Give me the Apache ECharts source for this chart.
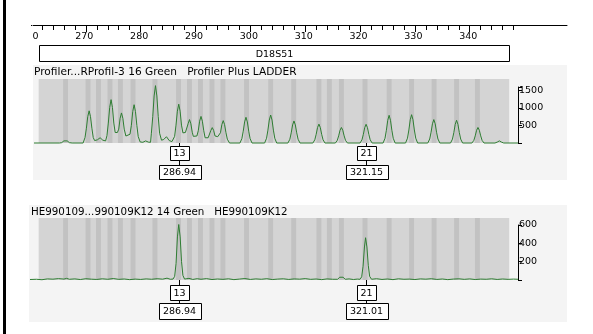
<!DOCTYPE html>
<html><head><meta charset="utf-8">
<script src="https://cdn.jsdelivr.net/npm/echarts@6/dist/echarts.min.js"></script>
<style>html,body{margin:0;padding:0;background:#fff}#c{width:593px;height:334px}</style>
</head><body><div id="c"></div><script>
// ---------- data ----------
const xMin = 260, xMax = 348.8;
const minorTickMax = 348, majorTickMax = 340;
const minorStep = 2, majorStep = 10;
const locusName = 'D18S51';
const locusRange = [261.4, 347.2];
const bins = [266.3, 270.4, 272.3, 274.4, 276.3, 278.6, 282.6, 286.9, 288.9, 290.9, 293.0, 295.0, 299.3, 303.7, 307.9, 312.5, 314.4, 316.6, 320.9, 325.3, 329.4, 333.5, 337.6, 341.4];
const ladderTitle = 'Profiler...RProfil-3 16 Green   Profiler Plus LADDER';
const sampleTitle = 'HE990109...990109K12 14 Green   HE990109K12';
const ladderYMax = 1600, ladderYStep = 500;
const sampleYMax = 600, sampleYStep = 200;
const ladderCalls = [['13', 286.94], ['21', 321.15]];
const sampleCalls = [['13', 286.94], ['21', 321.01]];
const ladderTrace = [
 [260.55,0],[265.2,0],[265.6,10],[266.0,60],[266.3,110],[266.6,60],[267.0,10],[267.5,0],[269.5,0],
 [269.85,156],[270.1,423],[270.35,754],[270.6,920],[270.85,754],[271.1,423],[271.35,156],[271.6,70],
 [272.1,90],[272.6,150],[273.1,80],[273.6,60],
 [273.85,211],[274.1,570],[274.35,1017],[274.6,1240],[274.85,1017],[275.1,570],[275.35,300],[275.55,270],
 [275.75,300],[276.0,396],[276.25,705],[276.5,860],[276.75,705],[277.0,396],[277.3,200],[277.6,180],
 [278.05,250],[278.3,504],[278.55,898],[278.8,1095],[279.05,898],[279.3,504],[279.55,186],[279.9,30],[280.4,20],
 [280.9,60],[281.4,25],[281.8,20],
 [281.95,279],[282.2,754],[282.45,1345],[282.7,1640],[282.95,1345],[283.2,754],[283.45,279],[283.8,80],[284.2,100],
 [284.7,180],[285.2,70],[285.7,40],
 [286.19,189],[286.44,511],[286.69,910],[286.94,1110],[287.19,910],[287.44,511],[287.7,290],[287.9,270],
 [288.15,300],[288.4,330],[288.65,550],[288.9,670],[289.15,550],[289.4,308],[289.6,190],[289.95,180],
 [290.25,200],[290.5,350],[290.75,623],[291.0,760],[291.25,623],[291.5,350],[291.75,150],[292.0,130],
 [292.3,150],[292.55,202],[292.8,361],[293.05,440],[293.3,361],[293.55,202],[293.8,170],[294.05,180],
 [294.3,200],[294.55,294],[294.8,525],[295.05,640],[295.3,525],[295.55,294],[295.8,109],[296.2,0],
 [298.1,0],[298.45,125],[298.7,338],[298.95,603],[299.2,735],[299.45,603],[299.7,338],[299.95,125],[300.3,0],
 [302.6,0],[302.95,136],[303.2,368],[303.45,656],[303.7,800],[303.95,656],[304.2,368],[304.45,136],[304.8,0],
 [306.85,0],[307.2,107],[307.45,290],[307.7,517],[307.95,630],[308.2,517],[308.45,290],[308.7,107],[309.05,0],
 [311.4,0],[311.75,92],[312.0,248],[312.25,443],[312.5,540],[312.75,443],[313.0,248],[313.25,92],[313.6,0],
 [315.5,0],[315.85,75],[316.1,204],[316.35,364],[316.6,444],[316.85,364],[317.1,204],[317.35,75],[317.7,0],
 [320.0,0],[320.35,91],[320.6,246],[320.85,439],[321.1,535],[321.35,439],[321.6,246],[321.85,91],[322.2,0],
 [324.2,0],[324.55,135],[324.8,364],[325.05,649],[325.3,792],[325.55,649],[325.8,364],[326.05,135],[326.4,0],
 [328.3,0],[328.65,138],[328.9,373],[329.15,664],[329.4,810],[329.65,664],[329.9,373],[330.15,138],[330.5,0],
 [332.35,0],[332.7,114],[332.95,308],[333.2,549],[333.45,670],[333.7,549],[333.95,308],[334.2,114],[334.55,0],
 [336.5,0],[336.85,111],[337.1,299],[337.35,533],[337.6,650],[337.85,533],[338.1,299],[338.35,111],[338.7,0],
 [340.4,0],[340.75,75],[341.0,204],[341.25,364],[341.5,444],[341.75,364],[342.0,204],[342.25,75],[342.6,0],
 [344.6,0],[345.0,25],[345.4,60],[345.8,25],[346.2,0],[348.8,0]
];
const sampleTrace = [
 [259.6,5],[261,8],[262,3],[263,12],[264,9],[265,15],[266,10],[266.5,18],[267,8],[268,12],[269,5],[270,14],[271,9],[272,6],[273,13],[274,8],[275,16],[276,7],[277,11],[278,4],[279,10],[280,6],[281,12],[282,8],[283,14],[284,9],[284.8,20],[285.4,8],
 [285.9,10],[286.2,40],[286.45,180],[286.7,470],[286.94,605],[287.2,470],[287.45,200],[287.7,50],[288.0,10],
 [288.8,18],[289.5,6],[290.3,14],[291,8],[292,15],[293,5],[294,11],[295,7],[296,13],[297,4],[298,10],[299,16],[300,6],[301,12],[302,8],[303,14],[304,5],[305,10],[306,13],[307,6],[308,12],[309,9],[310,15],[311,7],[312,11],[313,4],[314,12],[315,8],
 [315.9,8],[316.3,30],[316.6,45],[316.9,30],[317.3,8],
 [318,12],[318.8,5],[319.5,10],
 [320.0,8],[320.3,35],[320.55,150],[320.8,360],[321.01,461],[321.25,360],[321.5,160],[321.75,40],[322.1,8],
 [323,14],[324,6],[325,11],[326,4],[327,13],[328,8],[329,10],[330,5],[331,12],[332,9],[333,14],[334,6],[335,11],[336,4],[337,10],[338,13],[339,7],[340,12],[341,5],[342,10],[343,8],[344,13],[345,6],[346,11],[347,7],[348,10],[348.8,8]
];

// ---------- style / layout ----------
const FONT = 'DejaVu Sans';
const GREEN = '#2e7d32';
const PANEL = '#d4d4d4';
const BIN = '#c2c2c2';
const OUTER = '#f4f4f4';
const L = 31, PW = 487;                  // plot left and width for xMin..xMax
const S = PW / (xMax - xMin);            // px per bp (layout only)

const chart = echarts.init(document.getElementById('c'), null, {renderer: 'canvas'});

function hiddenX(gi) {
  return {gridIndex: gi, type: 'value', min: xMin, max: xMax, show: false, axisLine: {onZero: false}};
}
function hiddenY(gi, max) {
  return {gridIndex: gi, type: 'value', min: 0, max: max, show: false};
}
function dispY(gi, max, step) {
  return {
    gridIndex: gi, type: 'value', position: 'right', min: 0, max: max, interval: step,
    splitLine: {show: false},
    axisLine: {show: true, onZero: false, lineStyle: {color: '#000', width: 1}},
    axisTick: {show: true, length: 4, lineStyle: {color: '#000'}},
    axisLabel: {show: true, margin: 1, color: '#000', fontSize: 9.5, fontFamily: FONT,
      formatter: v => (v > 0 && v % step === 0) ? String(v) : ''}
  };
}
function panelSeries(xi, yi, yMax) {
  return {
    type: 'custom', xAxisIndex: xi, yAxisIndex: yi, z: 1, silent: true, clip: false,
    data: [[locusRange[0], locusRange[1]]],
    renderItem(params, api) {
      const a = api.coord([api.value(0), yMax]);
      const b = api.coord([api.value(1), 0]);
      return {type: 'rect', shape: {x: a[0], y: a[1], width: b[0] - a[0], height: b[1] - a[1]}, style: {fill: PANEL}};
    }
  };
}
function binSeries(xi, yi, yMax) {
  return {
    type: 'custom', xAxisIndex: xi, yAxisIndex: yi, z: 2, silent: true, clip: false,
    data: bins.map(b => [b]),
    renderItem(params, api) {
      const c = api.value(0);
      const a = api.coord([c - 0.45, yMax]);
      const b = api.coord([c + 0.45, 0]);
      return {type: 'rect', shape: {x: a[0], y: a[1], width: b[0] - a[0], height: b[1] - a[1]}, style: {fill: BIN}};
    }
  };
}
function traceSeries(xi, yi, data) {
  return {
    type: 'line', xAxisIndex: xi, yAxisIndex: yi, data: data, z: 5, clip: false,
    showSymbol: false, symbol: 'none', silent: true, animation: false,
    lineStyle: {color: GREEN, width: 1}
  };
}
function callSeries(xi, yi, calls, g1, h1, g2, h2) {
  return {
    type: 'custom', xAxisIndex: xi, yAxisIndex: yi, z: 6, clip: false, silent: true,
    data: calls.map(c => [c[1], 0]),
    renderItem(params, api) {
      const p = api.coord([api.value(0), 0]);
      const x = Math.round(p[0]) + 0.5, y = Math.round(p[1]);
      const allele = calls[params.dataIndex][0];
      const size = calls[params.dataIndex][1].toFixed(2);
      const aw = 19, sw = 42;
      const font = '9.5px "' + FONT + '"';
      const y1 = y + g1, y2 = y1 + h1, y3 = y2 + g2;
      return {type: 'group', children: [
        {type: 'line', shape: {x1: x, y1: y, x2: x, y2: y1}, style: {stroke: '#000', lineWidth: 1}},
        {type: 'rect', shape: {x: Math.round(x - aw / 2) + 0.5, y: y1 + 0.5, width: aw, height: h1}, style: {fill: '#fff', stroke: '#000', lineWidth: 1}},
        {type: 'text', style: {text: allele, x: x, y: y1 + h1 / 2 + 1, align: 'center', verticalAlign: 'middle', font: font, fill: '#000'}},
        {type: 'line', shape: {x1: x, y1: y2, x2: x, y2: y3}, style: {stroke: '#000', lineWidth: 1}},
        {type: 'rect', shape: {x: Math.round(x - sw / 2) + 0.5, y: y3 + 0.5, width: sw, height: h2}, style: {fill: '#fff', stroke: '#000', lineWidth: 1}},
        {type: 'text', style: {text: size, x: x, y: y3 + h2 / 2 + 1, align: 'center', verticalAlign: 'middle', font: font, fill: '#000'}}
      ]};
    }
  };
}

const option = {
  animation: false,
  backgroundColor: '#fff',
  grid: [
    {left: L, width: (minorTickMax - xMin) * S, top: 25, height: 20},   // 0 minor ruler ticks
    {left: L, width: (majorTickMax - xMin) * S, top: 25, height: 20},   // 1 major ruler ticks + labels
    {left: 33, right: 26, top: 25, height: 20},                         // 2 ruler line
    {left: L, width: PW, top: 45, height: 17},                          // 3 locus box
    {left: L, width: PW, top: 79, height: 64},                          // 4 ladder data
    {left: L, width: PW, top: 87, height: 56},                          // 5 ladder y axis
    {left: L, width: PW, top: 218, height: 62},                         // 6 sample data
    {left: L, width: PW, top: 225, height: 55}                          // 7 sample y axis
  ],
  xAxis: [
    {gridIndex: 0, type: 'value', position: 'top', min: xMin, max: minorTickMax, interval: minorStep,
     splitLine: {show: false}, axisLine: {show: false, onZero: false},
     axisTick: {show: true, inside: true, length: 5, lineStyle: {color: '#000'}},
     axisLabel: {show: false}},
    {gridIndex: 1, type: 'value', position: 'top', min: xMin, max: majorTickMax, interval: majorStep,
     splitLine: {show: false}, axisLine: {show: false, onZero: false},
     axisTick: {show: true, inside: true, length: 7, lineStyle: {color: '#000'}},
     axisLabel: {show: true, inside: true, margin: 7, color: '#000', fontSize: 9.5, fontFamily: FONT, padding: [0, 3, 0, 0]}},
    {gridIndex: 2, type: 'value', position: 'top', min: 0, max: 1,
     splitLine: {show: false}, axisTick: {show: false}, axisLabel: {show: false},
     axisLine: {show: true, onZero: false, lineStyle: {color: '#000', width: 1}}},
    hiddenX(3), hiddenX(4), hiddenX(5), hiddenX(6), hiddenX(7)
  ],
  yAxis: [
    hiddenY(0, 1), hiddenY(1, 1), hiddenY(2, 1), hiddenY(3, 1),
    hiddenY(4, 1830),
    dispY(5, ladderYMax, ladderYStep),
    hiddenY(6, 676),
    dispY(7, sampleYMax, sampleYStep)
  ],
  graphic: [
    {type: 'rect', z: -10, shape: {x: 33, y: 65, width: 534, height: 115}, style: {fill: OUTER}},
    {type: 'rect', z: -10, shape: {x: 29, y: 205, width: 538, height: 117}, style: {fill: OUTER}},
    {type: 'rect', z: 100, shape: {x: 7, y: 26, width: 26, height: 18}, style: {fill: '#fff'}},
    {type: 'rect', z: 101, shape: {x: 3, y: 0, width: 3, height: 334}, style: {fill: '#000'}},
    {type: 'text', z: 10, style: {text: ladderTitle, x: 34, y: 72, verticalAlign: 'middle', font: '10.6px "' + FONT + '"', fill: '#000'}},
    {type: 'text', z: 10, style: {text: sampleTitle, x: 31, y: 212, verticalAlign: 'middle', font: '10.3px "' + FONT + '"', fill: '#000'}}
  ],
  series: [
    {type: 'custom', xAxisIndex: 3, yAxisIndex: 3, z: 3, silent: true, clip: false,
     data: [[locusRange[0], locusRange[1]]],
     renderItem(params, api) {
       const a = api.coord([api.value(0), 1]);
       const b = api.coord([api.value(1), 0]);
       const x0 = Math.round(a[0]) + 0.5, x1 = Math.round(b[0]) + 0.5;
       const y0 = Math.round(a[1]) + 0.5, y1 = Math.round(b[1]) - 0.5;
       return {type: 'group', children: [
         {type: 'rect', shape: {x: x0, y: y0, width: x1 - x0, height: y1 - y0}, style: {fill: '#fff', stroke: '#000', lineWidth: 1}},
         {type: 'text', style: {text: locusName, x: (x0 + x1) / 2, y: (y0 + y1) / 2 + 1, align: 'center', verticalAlign: 'middle', font: '9.5px "' + FONT + '"', fill: '#000'}}
       ]};
     }},
    panelSeries(4, 4, 1830),
    binSeries(4, 4, 1830),
    traceSeries(4, 4, ladderTrace),
    callSeries(4, 4, ladderCalls, 3, 14, 5, 14),
    panelSeries(6, 6, 676),
    binSeries(6, 6, 676),
    traceSeries(6, 6, sampleTrace),
    callSeries(6, 6, sampleCalls, 5, 15, 3, 16)
  ]
};
chart.setOption(option);
</script></body></html>
